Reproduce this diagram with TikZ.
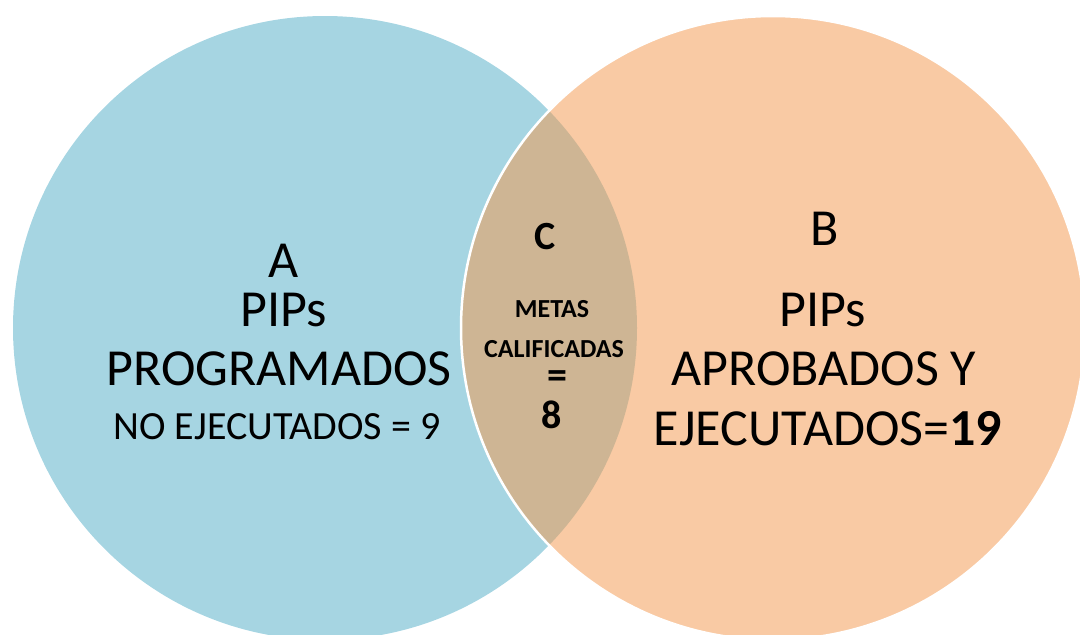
\documentclass[tikz,border=0pt]{standalone}
\usepackage{fontspec}
\setmainfont{Carlito}
\usepackage{tikz}

\definecolor{setblue}{RGB}{166,213,226}
\definecolor{setorange}{RGB}{249,202,164}
\definecolor{setboth}{RGB}{206,181,148}

\begin{document}
\begin{tikzpicture}[x=1pt,y=-1pt,
    big/.style={anchor=base,inner sep=0pt,font=\fontsize{52}{52}\selectfont},
    small/.style={anchor=base,inner sep=0pt,font=\fontsize{40}{40}\selectfont},
    lensbig/.style={anchor=base,inner sep=0pt,font=\fontsize{40}{40}\selectfont\bfseries},
    lenssmall/.style={anchor=base,inner sep=0pt,font=\fontsize{26}{26}\selectfont\bfseries}]
    \useasboundingbox (0,0) rectangle (1080,635);
    \clip (0,0) rectangle (1080,635);
    % Circles
    \coordinate (CenterA) at (325,328);
    \coordinate (CenterB) at (773,328);
    \fill[setblue] (CenterA) circle (312pt);
    \fill[setorange] (CenterB) circle (312pt);
    \begin{scope}
        \clip (CenterA) circle (312pt);
        \fill[setboth] (CenterB) circle (312pt);
    \end{scope}
    \draw[white, line width=2.5pt] (CenterB) circle (312pt);
    % Set A
    \foreach \name/\i/\x/\y in {A/1/284/277, PIPs/2/284/326, PROGRAMADOS/3/279/385} {
        \node[big] (TextA-\i) at (\x,\y) {\name};
    }
    \node[small] (TextA-4) at (277,439) {NO EJECUTADOS = 9};
    % Set B
    \foreach \name/\i/\x/\y in {B/1/825/245, PIPs/2/823/326, APROBADOS Y/3/824/385} {
        \node[big] (TextB-\i) at (\x,\y) {\name};
    }
    \node[big] (TextB-4) at (828,445) {EJECUTADOS=\textbf{19}};
    % Intersection C
    \node[lensbig] (TextC-1) at (545,249) {C};
    \node[lenssmall] (TextC-2) at (552,317) {METAS};
    \node[lenssmall] (TextC-3) at (554,357) {CALIFICADAS};
    \node[lensbig] (TextC-4) at (557,388) {=};
    \node[lensbig] (TextC-5) at (552,428) {8};
\end{tikzpicture}
\end{document}
